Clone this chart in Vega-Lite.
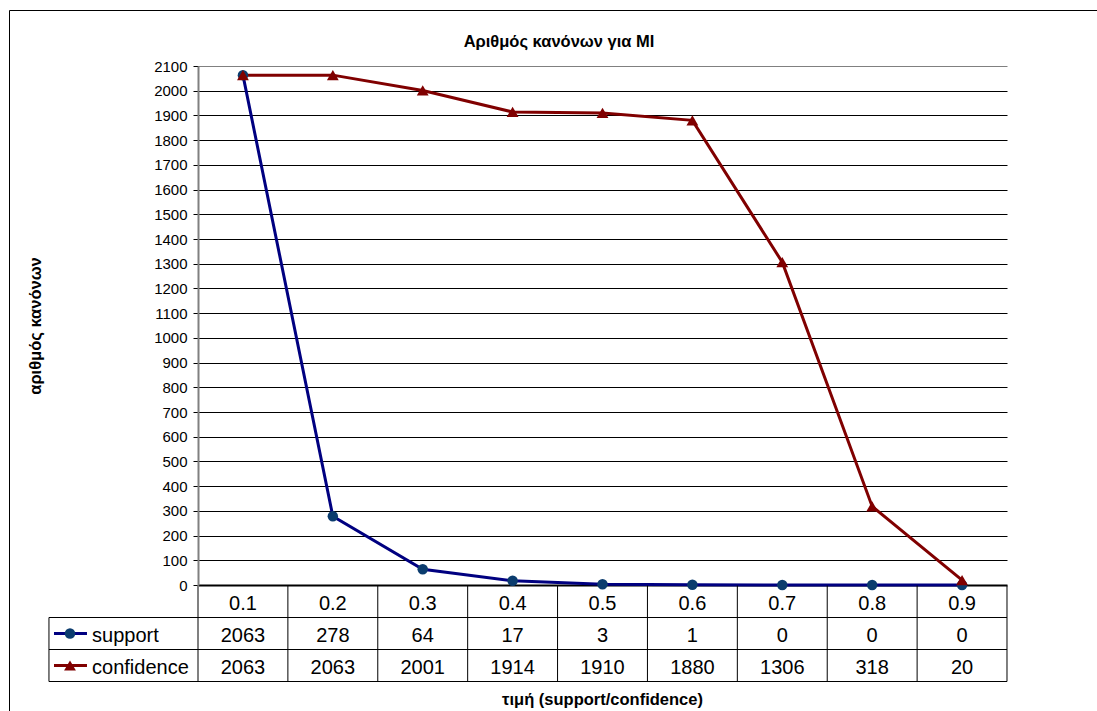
{
  "$schema": "https://vega.github.io/schema/vega-lite/v6.json",
  "description": "Αριθμός κανόνων για MI: rule counts against the support / confidence threshold, with the same numbers tabulated under the plot.",
  "width": 1088,
  "height": 701,
  "autosize": {"type": "none"},
  "padding": {"left": 9, "top": 10, "right": 0, "bottom": 0},
  "background": "white",
  "config": {
    "font": "Liberation Sans",
    "view": {"stroke": "black", "strokeWidth": 1},
    "axis": {"labelColor": "black", "titleColor": "black"}
  },
  "title": {
    "text": "Αριθμός κανόνων για MI",
    "fontSize": 16.5,
    "fontWeight": "bold",
    "color": "black",
    "anchor": "middle",
    "offset": 0,
    "baseline": "alphabetic",
    "dx": 6,
    "dy": 53
  },
  "datasets": {
    "counts": [
      {"value": 0.1, "support": 2063, "confidence": 2063},
      {"value": 0.2, "support": 278, "confidence": 2063},
      {"value": 0.3, "support": 64, "confidence": 2001},
      {"value": 0.4, "support": 17, "confidence": 1914},
      {"value": 0.5, "support": 3, "confidence": 1910},
      {"value": 0.6, "support": 1, "confidence": 1880},
      {"value": 0.7, "support": 0, "confidence": 1306},
      {"value": 0.8, "support": 0, "confidence": 318},
      {"value": 0.9, "support": 0, "confidence": 20}
    ],
    "rows": [{"row": "value"}, {"row": "support"}, {"row": "confidence"}]
  },
  "resolve": {"scale": {"y": "independent"}},
  "layer": [
    {
      "encoding": {
        "x": {
          "field": "value",
          "type": "quantitative",
          "scale": {"domain": [0.05, 0.95], "range": [189, 998], "nice": false, "zero": false},
          "axis": null
        },
        "y": {
          "field": "count",
          "type": "quantitative",
          "scale": {"domain": [0, 2100], "range": [575, 56], "nice": false, "zero": false},
          "axis": {
            "values": [0, 100, 200, 300, 400, 500, 600, 700, 800, 900, 1000, 1100, 1200, 1300, 1400, 1500, 1600, 1700, 1800, 1900, 2000, 2100],
            "format": "d",
            "offset": -189,
            "domainColor": "#808080",
            "domainWidth": 2,
            "tickColor": "black",
            "tickSize": 5,
            "tickWidth": 1,
            "labelFontSize": 15,
            "labelPadding": 6,
            "grid": true,
            "gridColor": {"condition": {"test": "datum.value === 2100", "value": "#808080"}, "value": "black"},
            "gridWidth": {"condition": {"test": "datum.value === 0", "value": 2}, "value": 1},
            "gridOpacity": 1,
            "title": "αριθμός κανόνων",
            "titleFontSize": 16.5,
            "titleFontWeight": "bold",
            "titleAngle": -90,
            "titleAlign": "center",
            "titleBaseline": "alphabetic",
            "titleX": -158,
            "titleY": 315.5
          }
        }
      },
      "layer": [
        {
          "data": {"name": "rows"},
          "transform": [{"filter": "datum.row === 'value'"}],
          "mark": {"type": "rule", "color": "#808080", "strokeWidth": 2},
          "encoding": {
            "x": {"datum": 0.95, "type": "quantitative"},
            "y": {"datum": 0, "type": "quantitative"},
            "y2": {"datum": 2100}
          }
        },
        {
          "data": {"name": "counts"},
          "transform": [{"fold": ["support", "confidence"], "as": ["series", "count"]}],
          "mark": {"type": "line", "strokeWidth": 3},
          "encoding": {
            "stroke": {
              "field": "series",
              "type": "nominal",
              "scale": {"domain": ["support", "confidence"], "range": ["#000080", "#800000"]},
              "legend": null
            }
          }
        },
        {
          "data": {"name": "counts"},
          "transform": [{"fold": ["support", "confidence"], "as": ["series", "count"]}],
          "mark": {"type": "point", "filled": true, "opacity": 1},
          "encoding": {
            "fill": {
              "field": "series",
              "type": "nominal",
              "scale": {"domain": ["support", "confidence"], "range": ["#0b3c6e", "#800000"]},
              "legend": null
            },
            "shape": {
              "field": "series",
              "type": "nominal",
              "scale": {"domain": ["support", "confidence"], "range": ["circle", "triangle-up"]},
              "legend": null
            },
            "size": {
              "field": "series",
              "type": "nominal",
              "scale": {"domain": ["support", "confidence"], "range": [110, 140]},
              "legend": null
            }
          }
        }
      ]
    },
    {
      "layer": [
        {
          "data": {"name": "counts"},
          "transform": [{"fold": ["value", "support", "confidence"], "as": ["row", "cell"]}],
          "mark": {"type": "text", "fontSize": 20, "dy": 2, "color": "black"},
          "encoding": {
            "x": {"field": "value", "type": "quantitative", "scale": {"domain": [0.05, 0.95], "range": [189, 998], "nice": false, "zero": false}, "axis": null},
            "y": {
              "field": "row",
              "type": "nominal",
              "scale": {"type": "band", "domain": ["value", "support", "confidence"], "range": [575.5, 671.5], "paddingInner": 0, "paddingOuter": 0},
              "axis": null
            },
            "text": {"field": "cell", "type": "nominal"}
          }
        },
        {
          "data": {"name": "counts"},
          "mark": {"type": "rule", "xOffset": -44.944},
          "encoding": {
            "x": {"field": "value", "type": "quantitative", "scale": {"domain": [0.05, 0.95], "range": [189, 998], "nice": false, "zero": false}, "axis": null},
            "y": {"datum": "value", "type": "nominal", "bandPosition": 0, "axis": null},
            "y2": {"datum": "confidence", "bandPosition": 1},
            "stroke": {"condition": {"test": "datum.value === 0.1", "value": "#808080"}, "value": "black"},
            "strokeWidth": {"condition": {"test": "datum.value === 0.1", "value": 2}, "value": 1}
          }
        },
        {
          "data": {"name": "counts"},
          "transform": [{"filter": "datum.value === 0.9"}],
          "mark": {"type": "rule", "xOffset": 44.944, "color": "black", "strokeWidth": 1},
          "encoding": {
            "x": {"field": "value", "type": "quantitative", "scale": {"domain": [0.05, 0.95], "range": [189, 998], "nice": false, "zero": false}, "axis": null},
            "y": {"datum": "value", "type": "nominal", "bandPosition": 0, "axis": null},
            "y2": {"datum": "confidence", "bandPosition": 1}
          }
        },
        {
          "data": {"name": "rows"},
          "mark": {"type": "rule", "color": "black", "strokeWidth": 1},
          "encoding": {
            "x": {"datum": -0.1158, "type": "quantitative", "axis": null},
            "x2": {"datum": 0.95},
            "y": {"field": "row", "type": "nominal", "bandPosition": 1, "axis": null}
          }
        },
        {
          "data": {"name": "rows"},
          "transform": [{"filter": "datum.row === 'support'"}],
          "mark": {"type": "rule", "color": "black", "strokeWidth": 1},
          "encoding": {
            "x": {"datum": -0.1158, "type": "quantitative", "axis": null},
            "y": {"field": "row", "type": "nominal", "bandPosition": 0, "axis": null},
            "y2": {"datum": "confidence", "bandPosition": 1}
          }
        },
        {
          "data": {"name": "rows"},
          "transform": [{"filter": "datum.row !== 'value'"}],
          "mark": {"type": "rule", "strokeWidth": 3},
          "encoding": {
            "x": {"datum": -0.1102, "type": "quantitative", "axis": null},
            "x2": {"datum": -0.0735},
            "y": {"field": "row", "type": "nominal", "axis": null},
            "stroke": {"field": "row", "type": "nominal", "scale": {"domain": ["support", "confidence"], "range": ["#000080", "#800000"]}, "legend": null}
          }
        },
        {
          "data": {"name": "rows"},
          "transform": [{"filter": "datum.row !== 'value'"}],
          "mark": {"type": "point", "filled": true, "opacity": 1},
          "encoding": {
            "x": {"datum": -0.0924, "type": "quantitative", "axis": null},
            "y": {"field": "row", "type": "nominal", "axis": null},
            "fill": {"field": "row", "type": "nominal", "scale": {"domain": ["support", "confidence"], "range": ["#0b3c6e", "#800000"]}, "legend": null},
            "shape": {"field": "row", "type": "nominal", "scale": {"domain": ["support", "confidence"], "range": ["circle", "triangle-up"]}, "legend": null},
            "size": {"field": "row", "type": "nominal", "scale": {"domain": ["support", "confidence"], "range": [110, 140]}, "legend": null}
          }
        },
        {
          "data": {"name": "rows"},
          "transform": [{"filter": "datum.row !== 'value'"}],
          "mark": {"type": "text", "align": "left", "fontSize": 20, "dy": 2, "color": "black"},
          "encoding": {
            "x": {"datum": -0.0679, "type": "quantitative", "axis": null},
            "y": {"field": "row", "type": "nominal", "axis": null},
            "text": {"field": "row", "type": "nominal"}
          }
        },
        {
          "data": {"name": "rows"},
          "transform": [{"filter": "datum.row === 'confidence'"}],
          "mark": {"type": "text", "text": "τιμή (support/confidence)", "align": "center", "baseline": "alphabetic", "fontSize": 16.5, "fontWeight": "bold", "dy": 23.5, "color": "black"},
          "encoding": {
            "x": {"datum": 0.5, "type": "quantitative", "axis": null},
            "y": {"field": "row", "type": "nominal", "bandPosition": 1, "axis": null}
          }
        }
      ]
    }
  ]
}
